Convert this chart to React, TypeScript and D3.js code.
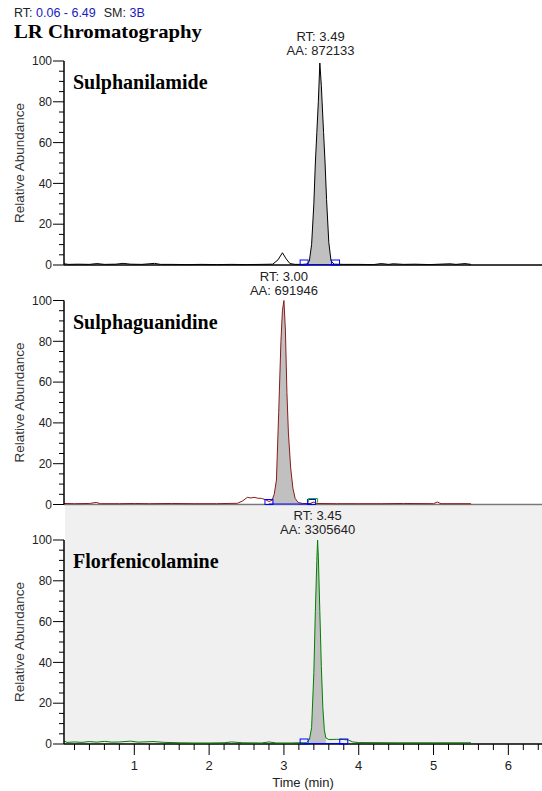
import React, { useEffect } from 'react';
import * as d3 from 'd3';

// chromatogram values: [time (min), relative abundance]
const sulphanilamideTrace: [number, number][] = [
  [0.06, 0.6], [0.12, 0.3], [0.25, 0.4], [0.4, 0.3], [0.5, 0.7], [0.6, 0.3], [0.75, 0.4], [0.85, 0.8],
  [0.95, 0.4], [1.1, 0.3], [1.27, 0.8], [1.35, 0.3], [1.5, 0.3], [1.7, 0.2], [1.9, 0.3], [2.1, 0.2],
  [2.3, 0.3], [2.5, 0.2], [2.7, 0.3], [2.85, 0.4], [2.92, 2.5], [2.98, 6], [3.03, 3], [3.08, 0.7],
  [3.15, 0.3], [3.25, 0.3], [3.31, 0.5], [3.34, 2], [3.37, 10], [3.4, 30], [3.42, 50], [3.44, 65],
  [3.46, 80], [3.48, 99], [3.5, 88], [3.51, 80], [3.53, 65], [3.55, 50], [3.57, 32], [3.6, 11],
  [3.63, 2], [3.67, 0.4], [3.8, 0.3], [4.0, 0.3], [4.2, 0.2], [4.3, 0.7], [4.4, 0.3], [4.46, 0.6],
  [4.6, 0.3], [4.75, 0.4], [4.95, 0.2], [5.22, 0.6], [5.3, 0.3], [5.42, 0.7], [5.5, 0.3],
];

const sulphaguanidineTrace: [number, number][] = [
  [0.06, 0.5], [0.2, 0.4], [0.4, 0.5], [0.49, 1.0], [0.55, 0.4], [0.8, 0.4], [1.0, 0.5], [1.2, 0.4],
  [1.5, 0.5], [1.8, 0.4], [2.1, 0.4], [2.38, 0.6], [2.45, 1.8], [2.51, 3.5], [2.56, 3.2], [2.6, 3.5],
  [2.65, 3.1], [2.7, 3.0], [2.75, 2.4], [2.8, 1.5], [2.84, 2.0], [2.87, 5], [2.9, 12], [2.93, 45],
  [2.96, 80], [2.98, 95], [3.0, 100], [3.02, 85], [3.04, 55], [3.06, 35], [3.09, 18], [3.12, 8],
  [3.15, 3], [3.19, 1], [3.25, 0.5], [3.35, 0.5], [3.4, 1.2], [3.44, 0.5], [3.7, 0.4], [4.0, 0.4],
  [4.3, 0.4], [4.6, 0.5], [5.0, 0.4], [5.05, 1.2], [5.1, 0.4], [5.5, 0.4],
];

const florfenicolamineTrace: [number, number][] = [
  [0.06, 1.5], [0.1, 0.8], [0.2, 1.0], [0.3, 0.8], [0.4, 1.2], [0.5, 0.9], [0.6, 1.3], [0.7, 0.9],
  [0.8, 1.0], [0.95, 1.4], [1.05, 0.9], [1.25, 1.2], [1.4, 0.8], [1.6, 0.6], [1.8, 0.5], [2.0, 0.5],
  [2.2, 0.6], [2.3, 1.0], [2.45, 0.6], [2.7, 0.5], [2.8, 1.0], [2.9, 0.5], [3.1, 0.5], [3.2, 0.6],
  [3.3, 0.6], [3.34, 2], [3.37, 8], [3.4, 35], [3.42, 65], [3.44, 90], [3.45, 100], [3.46, 92],
  [3.48, 65], [3.5, 38], [3.52, 18], [3.54, 7], [3.56, 3], [3.6, 2.2], [3.7, 2.3], [3.8, 2.2],
  [3.86, 2.0], [3.92, 1.0], [4.0, 0.7], [4.5, 0.6], [5.0, 0.6], [5.5, 0.6],
];

const compounds = ['Sulphanilamide', 'Sulphaguanidine', 'Florfenicolamine'];
const retentionTimes = [3.49, 3.0, 3.45];
const peakAreas = ['872133', '691946', '3305640'];
const traceColors = ['#000000', '#8b1a1a', '#008000'];
const fillRanges = [[3.31, 3.66], [2.84, 3.22], [3.32, 3.58]];
const integrationMarks = [[3.27, 3.69], [2.8, 3.37], [3.27, 3.8]];
const yTicks = [0, 20, 40, 60, 80, 100];
const xTicks = [1, 2, 3, 4, 5, 6];
const timeRange = [0.06, 6.49];

const traces = [sulphanilamideTrace, sulphaguanidineTrace, florfenicolamineTrace];

const W = 542;
const H = 791;
const axisX = 64;
const panelTops = [61, 300.5, 540];
const panelH = 204;
const sans = 'Arial, "Liberation Sans", sans-serif';
const serif = '"Times New Roman", "Liberation Serif", serif';

function Panel({ i, x }: { i: number; x: d3.ScaleLinear<number, number> }) {
  const top = panelTops[i];
  const bottom = top + panelH;
  const y = d3.scaleLinear().domain([0, 100]).range([bottom, top]);
  const data = traces[i];
  const line = d3.line<[number, number]>().x(d => x(d[0])).y(d => y(d[1]));
  const area = d3.area<[number, number]>().x(d => x(d[0])).y0(bottom).y1(d => y(d[1]));
  const [f0, f1] = fillRanges[i];
  const peak = data.filter(d => d[0] >= f0 && d[0] <= f1);
  const [m0, m1] = integrationMarks[i];
  const rtX = x(retentionTimes[i]);

  return (
    <g>
      <line x1={axisX} x2={W} y1={bottom} y2={bottom} stroke={i === 1 ? '#777' : '#000'} strokeWidth={1.5} />
      <path d={area(peak) || ''} fill="#c0c0c0" />
      <path d={line(data) || ''} fill="none" stroke={traceColors[i]} strokeWidth={1} />
      <line x1={x(m0)} x2={x(m1)} y1={bottom - 0.5} y2={bottom - 0.5} stroke="#0000ff" strokeWidth={1} />
      {[m0, m1].map((m, k) => (
        <rect key={k} x={x(m) - 4} y={bottom - 5} width={8} height={5} fill="none" stroke="#0000ff" strokeWidth={1} />
      ))}
      {i === 1 && (
        <path
          d={`M${x(m1) - 3},${bottom - 2} V${bottom - 6} H${x(m1) + 6} V${bottom - 2}`}
          fill="none"
          stroke="#20b020"
          strokeWidth={1}
        />
      )}
      <line x1={axisX} x2={axisX} y1={top} y2={bottom} stroke="#000" strokeWidth={1.5} />
      {d3.range(0, 101, 5).map(v => (
        <line key={v} x1={axisX - (v % 20 === 0 ? 11 : 5)} x2={axisX} y1={y(v)} y2={y(v)} stroke="#000" strokeWidth={1} />
      ))}
      {yTicks.map(v => (
        <text key={v} x={axisX - 12} y={y(v)} dy="0.35em" textAnchor="end" fontSize={12} fontFamily={sans} fill="#222">
          {v}
        </text>
      ))}
      <text
        transform={`translate(24,${(top + bottom) / 2}) rotate(-90)`}
        textAnchor="middle"
        fontSize={13.5}
        fontFamily={sans}
        fill="#333"
      >
        Relative Abundance
      </text>
      <text x={73} y={top + 28} fontSize={20} fontWeight="bold" fontFamily={serif} fill="#000">
        {compounds[i]}
      </text>
      <text x={rtX} y={top - 20} textAnchor="middle" fontSize={13} fontFamily={sans} fill="#222">
        RT: {retentionTimes[i].toFixed(2)}
      </text>
      <text x={rtX} y={top - 6} textAnchor="middle" fontSize={13} fontFamily={sans} fill="#222">
        AA: {peakAreas[i]}
      </text>
    </g>
  );
}

export default function App() {
  useEffect(() => {
    document.body.style.margin = '0';
  }, []);

  const x = d3.scaleLinear().domain(timeRange).range([axisX, 545]);
  const base = panelTops[2] + panelH;
  const minor = d3.range(1, 33).map(k => k * 0.2);

  return (
    <svg width={W} height={H} style={{ position: 'absolute', left: 0, top: 0, background: '#fff' }}>
      <rect x={axisX + 1} y={panelTops[1] + panelH + 1} width={W - axisX} height={base - panelTops[1] - panelH - 1} fill="#f0f0f0" />
      <text x={14} y={17} fontSize={12.5} fontFamily={sans} fill="#222">
        <tspan>RT: </tspan>
        <tspan fill="#2020c0">0.06 - 6.49</tspan>
        <tspan dx={8}>SM: </tspan>
        <tspan fill="#2020c0">3B</tspan>
      </text>
      <text x={14} y={38} fontSize={19} fontWeight="bold" fontFamily={serif} fill="#000" textLength={188} lengthAdjust="spacingAndGlyphs">
        LR Chromatography
      </text>
      {[0, 1, 2].map(i => (
        <Panel key={i} i={i} x={x} />
      ))}
      {minor.map(t => (
        <line
          key={t}
          x1={x(t)}
          x2={x(t)}
          y1={base}
          y2={base + (Math.abs(t - Math.round(t)) < 0.01 ? 11 : 6)}
          stroke="#000"
          strokeWidth={1}
        />
      ))}
      {xTicks.map(t => (
        <text key={t} x={x(t)} y={770} textAnchor="middle" fontSize={13} fontFamily={sans} fill="#222">
          {t}
        </text>
      ))}
      <text x={303} y={787} textAnchor="middle" fontSize={13} fontFamily={sans} fill="#222">
        Time (min)
      </text>
    </svg>
  );
}
